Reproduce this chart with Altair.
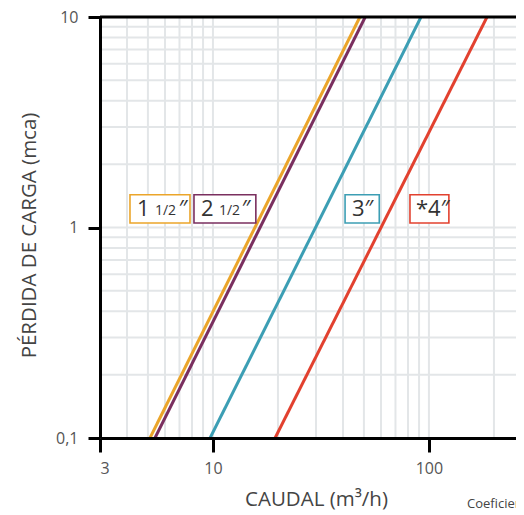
import altair as alt
import pandas as pd

# Series (two points each, straight in log-log space)
series = ["1 1/2\"", "2 1/2\"", "3\"", "*4\""]
colors = ["#eba52a", "#7a2f5f", "#3c9eb4", "#e2412f"]
q_low = [5.11, 5.39, 9.70, 19.4]     # caudal at 0.1 mca
q_high = [47.9, 50.7, 91.9, 185.7]   # caudal at 10 mca
h_low = 0.1
h_high = 10.0

# Grid values
x_grid = [4, 5, 6, 7, 8, 9, 10, 20, 30, 40, 50, 60, 70, 80, 90, 100, 200]
y_grid = [0.2, 0.3, 0.4, 0.5, 0.6, 0.7, 0.8, 0.9, 1, 2, 3, 4, 5, 6, 7, 8, 9]
x_ticks = [3, 10, 100]
y_ticks = [0.1, 1, 10]

# Label boxes
box_x1 = [4.13, 8.17, 40.9, 81.7]
box_x2 = [7.83, 15.8, 58.9, 123.7]
box_y1 = [1.05, 1.05, 1.05, 1.05]
box_y2 = [1.43, 1.43, 1.43, 1.43]
big_text = ["1", "″", "2", "″", "3″", "*4″"]
big_x = [4.45, 6.95, 8.80, 13.6, 44.0, 87.1]
small_text = ["1/2", "1/2"]
small_x = [5.39, 10.66]
label_y = 1.22

rows = []
for s, a, b in zip(series, q_low, q_high):
    rows.append({"serie": s, "q": a, "h": h_low})
    rows.append({"serie": s, "q": b, "h": h_high})
lines_df = pd.DataFrame(rows)
boxes_df = pd.DataFrame({"serie": series, "x1": box_x1, "x2": box_x2, "y1": box_y1, "y2": box_y2})
big_df = pd.DataFrame({"t": big_text, "x": big_x, "y": [label_y] * len(big_text)})
small_df = pd.DataFrame({"t": small_text, "x": small_x, "y": [label_y] * len(small_text)})
xg_df = pd.DataFrame({"x": x_grid})
yg_df = pd.DataFrame({"y": y_grid})
top_df = pd.DataFrame({"y": [h_high]})

FONT = "Open Sans"
xs = alt.Scale(type="log", domain=[3, 253], nice=False, zero=False)
ys = alt.Scale(type="log", domain=[0.1, 10], nice=False, zero=False)
cscale = alt.Scale(domain=series, range=colors)

grid_color = "#e3e6e8"

xgrid = alt.Chart(xg_df).mark_rule(color=grid_color, strokeWidth=2).encode(
    x=alt.X("x:Q", scale=xs)
)
ygrid = alt.Chart(yg_df).mark_rule(color=grid_color, strokeWidth=2).encode(
    y=alt.Y("y:Q", scale=ys)
)

lines = alt.Chart(lines_df).mark_line(strokeWidth=3, clip=True).encode(
    x=alt.X(
        "q:Q", scale=xs,
        axis=alt.Axis(
            values=x_ticks, grid=False, title="CAUDAL (m³/h)",
            domainColor="black", domainWidth=3, tickColor="black", tickWidth=3,
            tickSize=14, labelPadding=8, labelFont=FONT, labelFontSize=16,
            labelColor="#555555", titleFont=FONT, titleFontSize=20.5,
            titleFontWeight="normal", titleColor="#444444", titlePadding=13,
            titleX=216, titleAlign="center",
            labelExpr="format(datum.value, 'd')", zindex=1,
        ),
    ),
    y=alt.Y(
        "h:Q", scale=ys,
        axis=alt.Axis(
            values=y_ticks, grid=False, title="PÉRDIDA DE CARGA (mca)",
            domainColor="black", domainWidth=3, tickColor="black", tickWidth=3,
            tickSize=12, labelPadding=10, labelFont=FONT, labelFontSize=16,
            labelColor="#555555", titleFont=FONT, titleFontSize=20.5,
            titleFontWeight="normal", titleColor="#444444", titlePadding=16,
            titleY=218, titleAlign="center",
            labelExpr="datum.value < 1 ? '0,1' : format(datum.value, 'd')", zindex=1,
        ),
    ),
    color=alt.Color("serie:N", scale=cscale, legend=None),
    detail="serie:N",
)

boxes = alt.Chart(boxes_df).mark_rect(fill="white", strokeWidth=1.6).encode(
    x=alt.X("x1:Q", scale=xs),
    x2="x2:Q",
    y=alt.Y("y1:Q", scale=ys),
    y2="y2:Q",
    stroke=alt.Stroke("serie:N", scale=cscale, legend=None),
)

big = alt.Chart(big_df).mark_text(
    font=FONT, fontSize=22, color="#333333", align="left", baseline="middle"
).encode(x=alt.X("x:Q", scale=xs), y=alt.Y("y:Q", scale=ys), text="t:N")

small = alt.Chart(small_df).mark_text(
    font=FONT, fontSize=14, color="#333333", align="left", baseline="middle", dy=2
).encode(x=alt.X("x:Q", scale=xs), y=alt.Y("y:Q", scale=ys), text="t:N")

top = alt.Chart(top_df).mark_rule(color="black", strokeWidth=3).encode(
    y=alt.Y("y:Q", scale=ys)
)

note = alt.Chart(pd.DataFrame({"t": ["Coeficiente"]})).mark_text(
    font=FONT, fontSize=13, color="#444444", align="left", baseline="alphabetic"
).encode(x=alt.value(367), y=alt.value(491), text="t:N")

chart = alt.layer(xgrid, ygrid, lines, boxes, big, small, top, note).properties(
    width=416,
    height=421,
    autosize=alt.AutoSizeParams(type="none"),
    padding={"left": 92, "top": 9, "right": 0, "bottom": 74},
).configure_view(stroke=None).configure(background="white")

chart.save("out.html", embed_options={"renderer": "svg", "actions": False})
